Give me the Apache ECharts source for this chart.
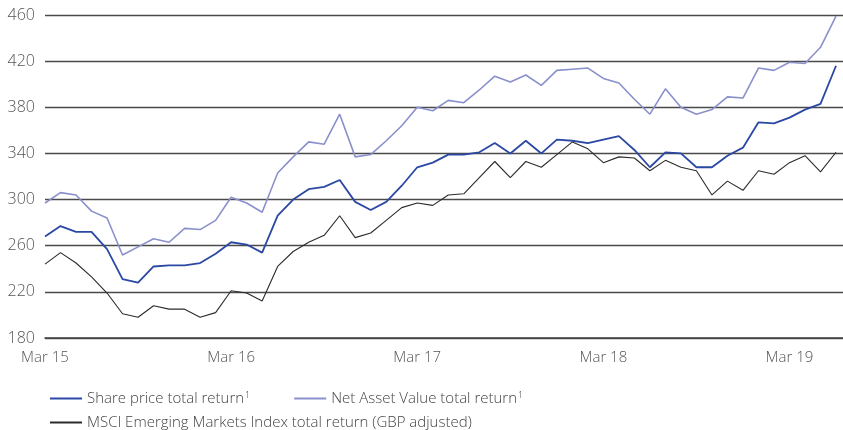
<!DOCTYPE html>
<html>
<head>
<meta charset="utf-8">
<script src="https://cdn.jsdelivr.net/npm/echarts@6/dist/echarts.min.js"></script>
<style>
html,body{margin:0;padding:0;background:#fff;}
#c{width:843px;height:430px;}
</style>
</head>
<body>
<div id="c"></div>
<script>
// Months from Mar 15 to Jun 19 (52 monthly points)
const monthNames = ['Jan','Feb','Mar','Apr','May','Jun','Jul','Aug','Sep','Oct','Nov','Dec'];
const categories = [];
for (let y = 15, m = 2; categories.length < 52; ) {
  categories.push(monthNames[m] + ' ' + y);
  m++; if (m > 11) { m = 0; y++; }
}
const tickLabels = ['Mar 15', 'Mar 16', 'Mar 17', 'Mar 18', 'Mar 19'];
const yTicks = [180, 220, 260, 300, 340, 380, 420, 460];

const sharePrice = [
  268, 277, 272, 272, 257, 231, 228, 242, 243, 243, 245, 253, 263, 261, 254, 286,
  300, 309, 311, 317, 298, 291, 298, 312, 328, 332, 339, 339, 341, 349, 340, 351,
  340, 352, 351, 349, 352, 355, 343, 328, 341, 340, 328, 328, 338, 345, 367, 366,
  371, 378, 383, 416
];
const navReturn = [
  297, 306, 304, 290, 284, 252, 259, 266, 263, 275, 274, 282, 302, 297, 289, 323,
  337, 350, 348, 374, 337, 339, 351, 364, 380, 377, 386, 384, 395, 407, 402, 408,
  399, 412, 413, 414, 405, 401, 387, 374, 396, 380, 374, 378, 389, 388, 414, 412,
  419, 418, 432, 459
];
const msciReturn = [
  244, 254, 245, 233, 219, 201, 198, 208, 205, 205, 198, 202, 221, 219, 212, 242,
  255, 263, 269, 286, 267, 271, 282, 293, 297, 295, 304, 305, 319, 333, 319, 333,
  328, 339, 350, 344, 332, 337, 336, 325, 334, 328, 325, 304, 316, 308, 325, 322,
  332, 338, 324, 341
];

const seriesNames = [
  'Share price total return\u00B9',
  'Net Asset Value total return\u00B9',
  'MSCI Emerging Markets Index total return (GBP adjusted)'
];
const colors = ['#2a48a4', '#8a90cc', '#2b2b2b'];

const toPairs = arr => arr.map((v, i) => [i, v]);
const font = '"Open Sans", "Noto Sans", sans-serif';

const legendText = {
  color: '#444', fontFamily: font, fontSize: 15, fontWeight: 300,
  rich: {
    t: {color: '#444', fontFamily: font, fontSize: 15, fontWeight: 300},
    sup: {color: '#444', fontFamily: font, fontSize: 9, fontWeight: 300, verticalAlign: 'top', padding: [0, 0, 6, 1]}
  }
};
const legendFormatter = function (name) {
  if (name.indexOf('\u00B9') >= 0) {
    return '{t|' + name.replace('\u00B9', '') + '}{sup|1}';
  }
  return '{t|' + name + '}';
};

const chart = echarts.init(document.getElementById('c'), null, {renderer: 'canvas'});
chart.setOption({
  animation: false,
  backgroundColor: '#fff',
  grid: {left: 45, right: 0, top: 15, bottom: 92, containLabel: false},
  xAxis: {
    type: 'value',
    min: 0,
    max: 51.45,
    interval: 12,
    axisLine: {show: true, lineStyle: {color: '#444', width: 1.5}},
    axisTick: {show: false},
    splitLine: {show: false},
    axisLabel: {
      show: true,
      margin: 12,
      color: '#555',
      fontFamily: font,
      fontSize: 15,
      fontWeight: 300,
      showMaxLabel: false,
      formatter: function (v) {
        const idx = Math.round(v / 12);
        return (Math.abs(v - idx * 12) < 0.01 && tickLabels[idx]) ? tickLabels[idx] : '';
      }
    }
  },
  yAxis: {
    type: 'value',
    min: yTicks[0],
    max: yTicks[yTicks.length - 1],
    interval: 40,
    axisLine: {show: false},
    axisTick: {show: false},
    splitLine: {show: true, lineStyle: {color: '#4a4a4a', width: 1.3}},
    axisLabel: {
      margin: 10,
      color: '#555',
      fontFamily: font,
      fontSize: 16,
      fontWeight: 300
    }
  },
  legend: [
    {
      data: [seriesNames[0], seriesNames[1]],
      left: 45, top: 386,
      icon: 'rect', itemWidth: 32, itemHeight: 2, itemGap: 44,
      formatter: legendFormatter,
      textStyle: legendText
    },
    {
      data: [seriesNames[2]],
      left: 45, top: 410,
      icon: 'rect', itemWidth: 32, itemHeight: 2, itemGap: 44,
      formatter: legendFormatter,
      textStyle: legendText
    }
  ],
  series: [
    {
      name: seriesNames[2], type: 'line', data: toPairs(msciReturn),
      showSymbol: false, color: colors[2],
      lineStyle: {color: colors[2], width: 1.1}
    },
    {
      name: seriesNames[1], type: 'line', data: toPairs(navReturn),
      showSymbol: false, color: colors[1],
      lineStyle: {color: colors[1], width: 1.6}
    },
    {
      name: seriesNames[0], type: 'line', data: toPairs(sharePrice),
      showSymbol: false, color: colors[0],
      lineStyle: {color: colors[0], width: 1.8}
    }
  ]
});
</script>
</body>
</html>
